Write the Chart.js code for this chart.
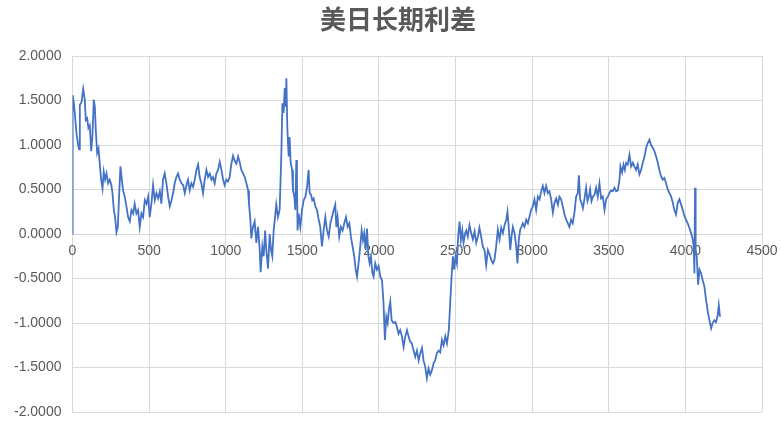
<!DOCTYPE html>
<html>
<head>
<meta charset="utf-8">
<script src="https://cdn.jsdelivr.net/npm/chart.js@4.4.0/dist/chart.umd.min.js"></script>
<style>
  html, body { margin: 0; padding: 0; background: #fff; }
  #wrap { width: 781px; height: 428px; }
</style>
</head>
<body>
<div id="wrap"><canvas id="spreadChart" width="781" height="428"></canvas></div>
<script>
  const titleText = "美日长期利差";
  const xTicks = [0, 500, 1000, 1500, 2000, 2500, 3000, 3500, 4000, 4500];
  const yTicks = [-2, -1.5, -1, -0.5, 0, 0.5, 1, 1.5, 2];

  const dayIndex = [
    0, 1, 9, 17, 26, 37, 43, 48, 59, 70, 80, 87, 96, 104, 113, 122, 130, 139, 146, 152,
    161, 170, 178, 187, 196, 204, 213, 222, 233, 243, 254, 261, 270, 278, 287, 296, 304, 313, 322, 330,
    341, 352, 363, 374, 385, 396, 406, 417, 428, 439, 450, 461, 472, 483, 494, 504, 515, 526, 537, 548,
    559, 570, 580, 591, 602, 613, 624, 635, 646, 657, 667, 678, 689, 700, 711, 722, 733, 744, 754, 765,
    776, 787, 798, 809, 820, 830, 841, 852, 863, 874, 885, 896, 907, 917, 928, 939, 950, 961, 972, 983,
    993, 1004, 1015, 1026, 1037, 1048, 1059, 1070, 1081, 1091, 1102, 1113, 1124, 1135, 1146, 1152, 1161, 1167, 1178, 1189,
    1200, 1211, 1222, 1228, 1239, 1248, 1257, 1265, 1276, 1287, 1296, 1304, 1313, 1322, 1330, 1341, 1352, 1363, 1370, 1378,
    1385, 1391, 1396, 1402, 1407, 1411, 1417, 1424, 1433, 1439, 1448, 1454, 1461, 1465, 1469, 1476, 1487, 1498, 1509, 1520,
    1531, 1541, 1548, 1557, 1565, 1574, 1585, 1596, 1607, 1617, 1628, 1639, 1650, 1661, 1672, 1683, 1694, 1705, 1715, 1722,
    1730, 1741, 1752, 1763, 1774, 1785, 1796, 1807, 1817, 1828, 1839, 1848, 1857, 1867, 1878, 1887, 1896, 1904, 1913, 1922,
    1931, 1939, 1948, 1957, 1965, 1976, 1987, 1998, 2009, 2020, 2030, 2039, 2048, 2057, 2065, 2074, 2083, 2096, 2107, 2117,
    2128, 2139, 2150, 2161, 2172, 2183, 2193, 2204, 2215, 2226, 2237, 2248, 2259, 2270, 2281, 2291, 2302, 2313, 2324, 2335,
    2346, 2357, 2367, 2378, 2389, 2400, 2411, 2422, 2433, 2444, 2456, 2465, 2474, 2483, 2491, 2500, 2509, 2517, 2526, 2535,
    2544, 2552, 2563, 2570, 2580, 2591, 2602, 2613, 2624, 2635, 2646, 2656, 2667, 2678, 2689, 2700, 2711, 2722, 2733, 2744,
    2754, 2765, 2776, 2787, 2798, 2809, 2820, 2831, 2839, 2848, 2857, 2865, 2874, 2885, 2896, 2904, 2913, 2922, 2930, 2939,
    2950, 2961, 2972, 2983, 2993, 3004, 3015, 3026, 3037, 3048, 3059, 3070, 3080, 3091, 3102, 3113, 3124, 3135, 3146, 3157,
    3168, 3178, 3189, 3200, 3211, 3222, 3233, 3243, 3254, 3265, 3276, 3287, 3298, 3305, 3313, 3322, 3331, 3341, 3352, 3361,
    3370, 3378, 3387, 3396, 3407, 3417, 3428, 3439, 3450, 3461, 3472, 3483, 3494, 3504, 3515, 3526, 3537, 3548, 3559, 3570,
    3576, 3587, 3596, 3605, 3613, 3624, 3635, 3646, 3657, 3667, 3678, 3689, 3700, 3711, 3722, 3733, 3744, 3754, 3765, 3776,
    3787, 3798, 3809, 3820, 3830, 3841, 3852, 3863, 3874, 3885, 3896, 3907, 3918, 3928, 3939, 3950, 3961, 3972, 3983, 3994,
    4004, 4015, 4026, 4037, 4048, 4054, 4059, 4063, 4067, 4074, 4083, 4092, 4102, 4113, 4124, 4135, 4146, 4157, 4168, 4178,
    4189, 4200, 4211, 4218, 4226
  ];
  const spread = [
    0, 1.56, 1.47, 1.32, 1.13, 1.00, 0.95, 1.45, 1.48, 1.63, 1.51, 1.28, 1.30, 1.19, 1.22, 0.93, 1.09, 1.51, 1.43, 1.17,
    0.91, 0.96, 0.79, 0.61, 0.51, 0.70, 0.61, 0.68, 0.57, 0.61, 0.55, 0.46, 0.27, 0.19, 0.02, 0.08, 0.42, 0.76, 0.61, 0.49,
    0.42, 0.31, 0.19, 0.14, 0.27, 0.23, 0.34, 0.23, 0.27, 0.08, 0.23, 0.19, 0.38, 0.34, 0.42, 0.19, 0.34, 0.55, 0.38, 0.46,
    0.40, 0.48, 0.34, 0.61, 0.68, 0.57, 0.42, 0.31, 0.38, 0.46, 0.57, 0.64, 0.68, 0.61, 0.57, 0.55, 0.46, 0.55, 0.61, 0.49,
    0.57, 0.53, 0.61, 0.72, 0.78, 0.64, 0.57, 0.46, 0.61, 0.72, 0.64, 0.68, 0.61, 0.64, 0.57, 0.68, 0.72, 0.81, 0.72, 0.61,
    0.55, 0.61, 0.59, 0.64, 0.79, 0.88, 0.82, 0.79, 0.87, 0.81, 0.72, 0.68, 0.64, 0.57, 0.49, 0.34, 0.16, -0.05, 0.08, 0.14,
    -0.10, 0.08, -0.18, -0.43, -0.14, -0.25, 0.04, -0.18, -0.39, 0.00, -0.18, -0.25, 0.04, 0.19, 0.33, 0.19, 0.27, 0.89, 1.47, 1.36,
    1.64, 1.43, 1.75, 1.20, 1.00, 0.87, 1.09, 0.80, 0.72, 0.49, 0.42, 0.27, 0.83, 0.60, 0.04, 0.23, 0.08, 0.27, 0.38, 0.42,
    0.53, 0.72, 0.46, 0.44, 0.38, 0.40, 0.31, 0.27, 0.16, 0.08, -0.14, 0.04, 0.19, 0.04, -0.03, 0.12, 0.19, 0.27, 0.33, 0.08,
    0.19, -0.03, 0.08, 0.04, 0.12, 0.19, 0.08, 0.12, -0.03, -0.14, -0.25, -0.40, -0.48, -0.33, -0.14, 0.04, -0.07, 0.01, -0.18, 0.06,
    -0.25, -0.33, -0.25, -0.44, -0.48, -0.33, -0.40, -0.36, -0.48, -0.52, -0.78, -1.19, -0.93, -1.00, -0.85, -0.76, -0.97, -1.00, -0.99, -1.04,
    -1.12, -1.08, -1.15, -1.27, -1.15, -1.08, -1.15, -1.21, -1.23, -1.31, -1.38, -1.31, -1.42, -1.34, -1.28, -1.42, -1.49, -1.62, -1.51, -1.58,
    -1.53, -1.45, -1.42, -1.34, -1.31, -1.33, -1.19, -1.25, -1.15, -1.23, -1.08, -0.78, -0.48, -0.25, -0.40, -0.25, -0.33, -0.03, 0.14, -0.07,
    0.04, -0.10, 0.01, 0.04, -0.03, 0.10, 0.01, -0.06, 0.03, -0.10, -0.03, 0.07, -0.03, -0.14, -0.18, -0.35, -0.18, -0.23, -0.29, -0.33,
    -0.29, -0.14, 0.05, -0.06, 0.07, 0.01, 0.10, 0.16, 0.25, 0.05, -0.18, -0.03, 0.08, 0.01, -0.14, -0.33, -0.06, 0.05, 0.08, 0.12,
    0.08, 0.16, 0.12, 0.20, 0.27, 0.31, 0.39, 0.27, 0.42, 0.39, 0.48, 0.54, 0.46, 0.54, 0.46, 0.48, 0.39, 0.24, 0.35, 0.40,
    0.33, 0.42, 0.39, 0.31, 0.22, 0.16, 0.12, 0.08, 0.16, 0.12, 0.24, 0.42, 0.46, 0.66, 0.39, 0.35, 0.29, 0.39, 0.52, 0.37,
    0.42, 0.50, 0.37, 0.42, 0.44, 0.52, 0.42, 0.57, 0.40, 0.42, 0.27, 0.39, 0.42, 0.46, 0.49, 0.48, 0.52, 0.48, 0.49, 0.61,
    0.76, 0.69, 0.78, 0.72, 0.80, 0.78, 0.89, 0.76, 0.80, 0.76, 0.72, 0.78, 0.67, 0.72, 0.80, 0.87, 0.97, 1.02, 1.06, 1.00,
    0.97, 0.93, 0.87, 0.80, 0.72, 0.65, 0.61, 0.63, 0.57, 0.50, 0.46, 0.42, 0.35, 0.27, 0.22, 0.35, 0.39, 0.33, 0.27, 0.20,
    0.16, 0.12, 0.07, 0.01, -0.06, -0.14, -0.44, 0.52, -0.18, -0.25, -0.57, -0.40, -0.44, -0.52, -0.59, -0.74, -0.87, -0.97, -1.06, -1.00,
    -0.97, -0.99, -0.91, -0.80, -0.93
  ];

  const textColor = "#595959";
  const gridColor = "#d9d9d9";
  const lineColor = "#4472c4";
  const tickFont = { family: "'Liberation Sans', Arial, sans-serif", size: 14 };

  // Excel centres the title over the whole chart box, which sits a little right of the plot centre
  const chartTitle = {
    id: "chartTitle",
    afterDraw(chart) {
      const ctx = chart.ctx;
      ctx.save();
      ctx.font = "bold 26px 'Noto Sans CJK SC', sans-serif";
      ctx.fillStyle = textColor;
      ctx.textAlign = "center";
      ctx.textBaseline = "middle";
      ctx.fillText(titleText, 398, 19);
      ctx.restore();
    }
  };

  new Chart(document.getElementById("spreadChart"), {
    type: "line",
    data: {
      datasets: [{
        label: titleText,
        data: dayIndex.map((x, i) => ({ x, y: spread[i] })),
        borderColor: lineColor,
        borderWidth: 1.8,
        pointRadius: 0,
        tension: 0,
        fill: false
      }]
    },
    plugins: [chartTitle],
    options: {
      responsive: false,
      animation: false,
      devicePixelRatio: 1,
      layout: { padding: { left: 3, right: 19, top: 56, bottom: 16 } },
      plugins: {
        legend: { display: false },
        tooltip: { enabled: false },
        title: { display: false }
      },
      scales: {
        x: {
          type: "linear",
          position: { y: 0 },
          min: 0,
          max: 4500,
          afterBuildTicks: (scale) => { scale.ticks = xTicks.map((value) => ({ value })); },
          // labels may overhang the plot edges, as in the original
          afterFit: (scale) => { scale.paddingLeft = 0; scale.paddingRight = 0; },
          grid: { color: gridColor, drawTicks: false },
          border: { color: gridColor },
          ticks: {
            color: textColor,
            padding: 9,
            maxRotation: 0,
            callback: (value) => String(value),
            font: tickFont
          }
        },
        y: {
          min: -2,
          max: 2,
          afterBuildTicks: (scale) => { scale.ticks = yTicks.map((value) => ({ value })); },
          afterFit: (scale) => { scale.paddingTop = 0; scale.paddingBottom = 0; },
          grid: { color: gridColor, drawTicks: false },
          border: { display: false },
          ticks: {
            color: textColor,
            padding: 11,
            callback: (value) => Number(value).toFixed(4),
            font: tickFont
          }
        }
      }
    }
  });
</script>
</body>
</html>
